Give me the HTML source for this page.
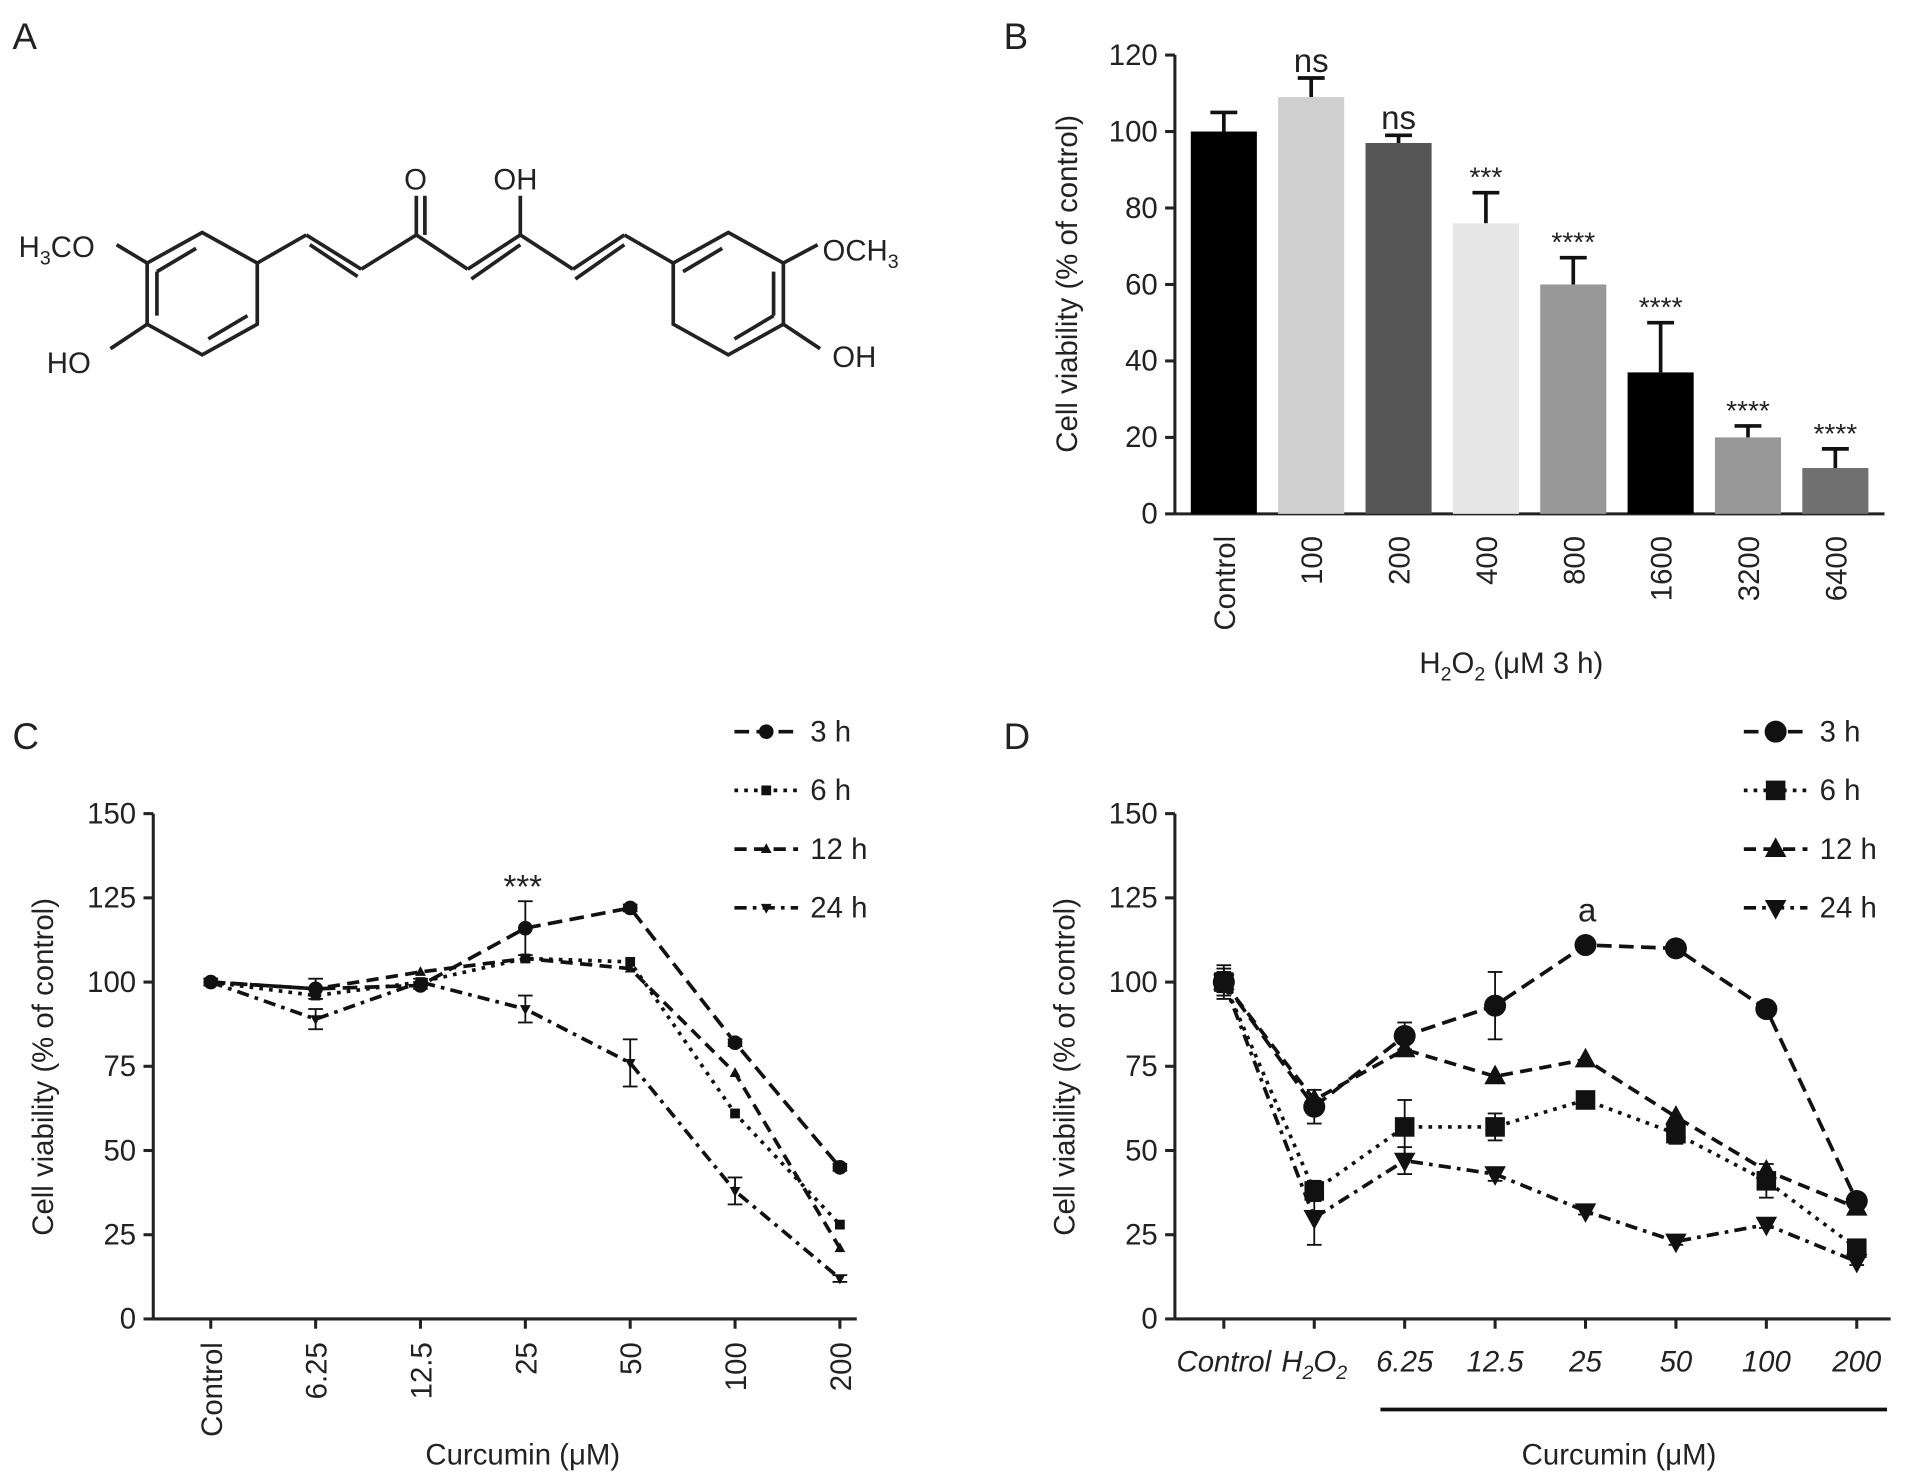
<!DOCTYPE html>
<html><head><meta charset="utf-8"><style>
html,body{margin:0;padding:0;background:#fff}
svg{display:block;font-family:"Liberation Sans",sans-serif}
</style></head><body>
<svg id="fig" width="1913" height="1478" viewBox="0 0 1563 1208">
<g id="panelA" stroke="#222" stroke-width="3" fill="none">
  <text x="10" y="40" font-size="30" fill="#222" stroke="none">A</text>
  <polygon points="165,190 210,215 210,265 165,290 120,265 120,215"/>
  <line x1="128" y1="222" x2="160" y2="203"/><line x1="202" y1="258" x2="170" y2="277"/><line x1="128" y1="258" x2="128" y2="222"/>
  <line x1="210" y1="215" x2="250" y2="192"/><line x1="250" y1="192" x2="295" y2="220"/><line x1="253" y1="200" x2="292" y2="226"/>
  <line x1="295" y1="220" x2="340" y2="192"/><line x1="340" y1="192" x2="340" y2="160"/><line x1="347" y1="192" x2="347" y2="160"/>
  <line x1="340" y1="192" x2="382" y2="220"/><line x1="382" y1="220" x2="425" y2="192"/><line x1="385" y1="228" x2="425" y2="200"/>
  <line x1="425" y1="192" x2="425" y2="160"/><line x1="425" y1="192" x2="468" y2="220"/><line x1="468" y1="220" x2="510" y2="192"/><line x1="470" y1="228" x2="510" y2="200"/>
  <line x1="510" y1="192" x2="550" y2="215"/>
  <polygon points="595,190 640,215 640,265 595,290 550,265 550,215"/>
  <line x1="558" y1="222" x2="590" y2="203"/><line x1="632" y1="258" x2="600" y2="277"/><line x1="632" y1="222" x2="632" y2="258"/>
  <line x1="120" y1="215" x2="95" y2="200"/><line x1="120" y1="265" x2="90" y2="285"/>
  <line x1="640" y1="215" x2="668" y2="200"/><line x1="640" y1="265" x2="670" y2="285"/>
  <g fill="#222" stroke="none" font-size="24">
    <text x="330" y="155">O</text><text x="403" y="155">OH</text>
    <text x="15" y="210">H<tspan font-size="16" dy="6">3</tspan><tspan dy="-6">CO</tspan></text>
    <text x="38" y="305">HO</text>
    <text x="672" y="213">OCH<tspan font-size="16" dy="6">3</tspan></text>
    <text x="680" y="300">OH</text>
  </g>
</g>
<g id="panelB"></g>
<g id="panelC"></g>
<g id="panelD"></g>
</svg>
<script>
const NS="http://www.w3.org/2000/svg";
function mk(p,t,a,txt){const e=document.createElementNS(NS,t);for(const k in a)e.setAttribute(k,a[k]);if(txt!==undefined)e.textContent=txt;p.appendChild(e);return e;}
const FS=24;

// Panel B data
const bCats=["Control","100","200","400","800","1600","3200","6400"];
const bVals=[100,109,97,76,60,37,20,12];
const bErr=[5,5,2,8,7,13,3,5];
const bSig=["","ns","ns","***","****","****","****","****"];
const bTicks=[0,20,40,60,80,100,120];
const bColors=["#000","#cfcfcf","#555","#e6e6e6","#989898","#000","#989898","#707070"];

// Panel C data
const cCats=["Control","6.25","12.5","25","50","100","200"];
const c3=[100,98,99,116,122,82,45];
const c6=[100,96,100,107,106,61,28];
const c12=[100,98,103,107,104,73,21];
const c24=[100,89,100,92,76,38,12];
const cErr3=[1,3,1,8,1,1,1];
const cErr24=[1,3,1,4,7,4,1];
const cTicks=[0,25,50,75,100,125,150];

// Panel D data
const dCats=["Control","H2O2","6.25","12.5","25","50","100","200"];
const d3=[100,63,84,93,111,110,92,35];
const d6=[100,38,57,57,65,55,41,21];
const d12=[100,65,80,72,77,60,44,33];
const d24=[100,30,47,43,32,23,28,17];
const dErr3=[5,5,4,10,1,1,1,2];
const dErr6=[4,3,8,4,2,3,5,2];
const dErr24=[3,8,4,2,1,1,1,1];
const dTicks=[0,25,50,75,100,125,150];

// ---- Panel B
(function(){
 const g=document.getElementById('panelB');
 const x0=960,yb=420,yt=45,vmax=120;
 const y=v=>yb-(v/vmax)*(yb-yt);
 const xc=i=>1000+i*71.4;
 mk(g,'text',{x:820,y:40,'font-size':30,fill:'#222'},'B');
 const ax=mk(g,'line',{x1:x0,y1:yt,x2:x0,y2:yb,stroke:'#222','stroke-width':2.5});
 
 mk(g,'line',{x1:x0,y1:yb,x2:1540,y2:yb,stroke:'#222','stroke-width':2.5});
 bTicks.forEach(t=>{mk(g,'line',{x1:x0-8,y1:y(t),x2:x0,y2:y(t),stroke:'#222','stroke-width':2.5});
  const tl=mk(g,'text',{x:x0-14,y:y(t)+8,'font-size':FS,'text-anchor':'end',fill:'#222'},t);
  });
 const yt_=mk(g,'text',{transform:'translate(880,232) rotate(-90)','font-size':FS,'text-anchor':'middle',fill:'#222'},'Cell viability (% of control)');
 
 bVals.forEach((v,i)=>{
  const cx=xc(i);
  mk(g,'line',{x1:cx,y1:y(v),x2:cx,y2:y(v+bErr[i]),stroke:'#111','stroke-width':3});
  mk(g,'line',{x1:cx-11,y1:y(v+bErr[i]),x2:cx+11,y2:y(v+bErr[i]),stroke:'#111','stroke-width':3});
  const r=mk(g,'rect',{x:cx-27,y:y(v),width:54,height:yb-y(v),fill:bColors[i]});
  
  
  if(bSig[i]){const s=mk(g,'text',{x:cx,y:y(v+bErr[i])-5,'font-size':bSig[i]=='ns'?27:23,'text-anchor':'middle',fill:'#222'},bSig[i]);
   }
  const l=mk(g,'text',{transform:`translate(${cx+9},438) rotate(-90)`,'font-size':FS,'text-anchor':'end',fill:'#222'},bCats[i]);
  
 });
 const xt=mk(g,'text',{x:1235,y:550,'font-size':FS,'text-anchor':'middle',fill:'#222'});
 xt.innerHTML='H<tspan font-size="16" dy="6">2</tspan><tspan dy="-6">O</tspan><tspan font-size="16" dy="6">2</tspan><tspan dy="-6"> (μM 3 h)</tspan>';
 
})();

function marker(g,type,x,y,s){
 let e;
 if(type=='circle')e=mk(g,'circle',{cx:x,cy:y,r:s,fill:'#111'});
 else if(type=='square')e=mk(g,'rect',{x:x-s,y:y-s,width:2*s,height:2*s,fill:'#111'});
 else if(type=='up')e=mk(g,'polygon',{points:`${x},${y-s*1.2} ${x+s*1.1},${y+s*0.8} ${x-s*1.1},${y+s*0.8}`,fill:'#111'});
 else e=mk(g,'polygon',{points:`${x},${y+s*1.2} ${x+s*1.1},${y-s*0.8} ${x-s*1.1},${y-s*0.8}`,fill:'#111'});
 
 return e;
}

function linePanel(gid,label,lx,x0,xpos,cats,series,types,dashes,sizes,errs,ticks,xend,italic,legx){
 const g=document.getElementById(gid);
 const yb=1078,yt=665,vmax=150;
 const y=v=>yb-(v/vmax)*(yb-yt);
 mk(g,'text',{x:lx,y:612,'font-size':30,fill:'#222'},label);
 mk(g,'line',{x1:x0,y1:yt,x2:x0,y2:yb,stroke:'#222','stroke-width':2.5});
 mk(g,'line',{x1:x0,y1:yb,x2:xend,y2:yb,stroke:'#222','stroke-width':2.5});
 ticks.forEach(t=>{mk(g,'line',{x1:x0-8,y1:y(t),x2:x0,y2:y(t),stroke:'#222','stroke-width':2.5});
  mk(g,'text',{x:x0-14,y:y(t)+8,'font-size':FS,'text-anchor':'end',fill:'#222'},t);});
 mk(g,'text',{transform:`translate(${x0-82},872) rotate(-90)`,'font-size':FS,'text-anchor':'middle',fill:'#222'},'Cell viability (% of control)');
 cats.forEach((c,i)=>{const x=xpos(i);
  mk(g,'line',{x1:x,y1:yb,x2:x,y2:yb+8,stroke:'#222','stroke-width':2.5});});
 series.forEach((s,k)=>{
  const pts=s.map((v,i)=>xpos(i)+','+y(v)).join(' ');
  const pl=mk(g,'polyline',{points:pts,fill:'none',stroke:'#111','stroke-width':3,'stroke-dasharray':dashes[k]});
  
  s.forEach((v,i)=>{
   if(errs[k]){const e=errs[k][i];
    mk(g,'line',{x1:xpos(i),y1:y(v-e),x2:xpos(i),y2:y(v+e),stroke:'#111','stroke-width':1.5});
    mk(g,'line',{x1:xpos(i)-6,y1:y(v+e),x2:xpos(i)+6,y2:y(v+e),stroke:'#111','stroke-width':1.5});
    mk(g,'line',{x1:xpos(i)-6,y1:y(v-e),x2:xpos(i)+6,y2:y(v-e),stroke:'#111','stroke-width':1.5});}
   marker(g,types[k],xpos(i),y(v),sizes[k]);
  });
  const ly=598+k*48;
  const lg=mk(g,'g',{});
  
  
  mk(lg,'line',{x1:legx,y1:ly,x2:legx+52,y2:ly,stroke:'#111','stroke-width':3,'stroke-dasharray':dashes[k]});
  marker(lg,types[k],legx+26,ly,sizes[k]);
  mk(lg,'text',{x:legx+62,y:ly+8,'font-size':FS,fill:'#222'},['3 h','6 h','12 h','24 h'][k]);
 });
 return {g,y};
}

// ---- Panel C
(function(){
 const xpos=i=>172+i*85.7;
 const r=linePanel('panelC','C',10,125,xpos,cCats,[c3,c6,c12,c24],['circle','square','up','down'],['12,6','3,5','10,6','10,5,3,5'],[6,4,4,4],[cErr3,null,null,cErr24],cTicks,700,false,600);
 cCats.forEach((c,i)=>{mk(r.g,'text',{transform:`translate(${xpos(i)+9},1097) rotate(-90)`,'font-size':FS,'text-anchor':'end',fill:'#222'},c);});
 mk(r.g,'text',{x:427,y:734,'font-size':27,'text-anchor':'middle',fill:'#222'},'***');
 mk(r.g,'text',{x:427,y:1197,'font-size':FS,'text-anchor':'middle',fill:'#222'},'Curcumin (μM)');
})();

// ---- Panel D
(function(){
 const xpos=i=>1000+i*73.9;
 const r=linePanel('panelD','D',820,960,xpos,dCats,[d3,d6,d12,d24],['circle','square','up','down'],['12,6','3,5','10,6','10,5,3,5'],[9,8,8,8],[dErr3,dErr6,null,dErr24],dTicks,1545,true,1425);
 dCats.forEach((c,i)=>{const t=mk(r.g,'text',{x:xpos(i),y:1121,'font-size':FS,'font-style':'italic','text-anchor':'middle',fill:'#222'});
  if(c=='H2O2')t.innerHTML='H<tspan font-size="16" dy="6">2</tspan><tspan dy="-6">O</tspan><tspan font-size="16" dy="6">2</tspan>';else t.textContent=c;
  });
 mk(r.g,'text',{x:1297,y:753,'font-size':27,'text-anchor':'middle',fill:'#222'},'a');
 mk(r.g,'line',{x1:1128,y1:1152,x2:1542,y2:1152,stroke:'#111','stroke-width':3});
 mk(r.g,'text',{x:1323,y:1197,'font-size':FS,'text-anchor':'middle',fill:'#222'},'Curcumin (μM)');
})();
</script>
</body></html>
